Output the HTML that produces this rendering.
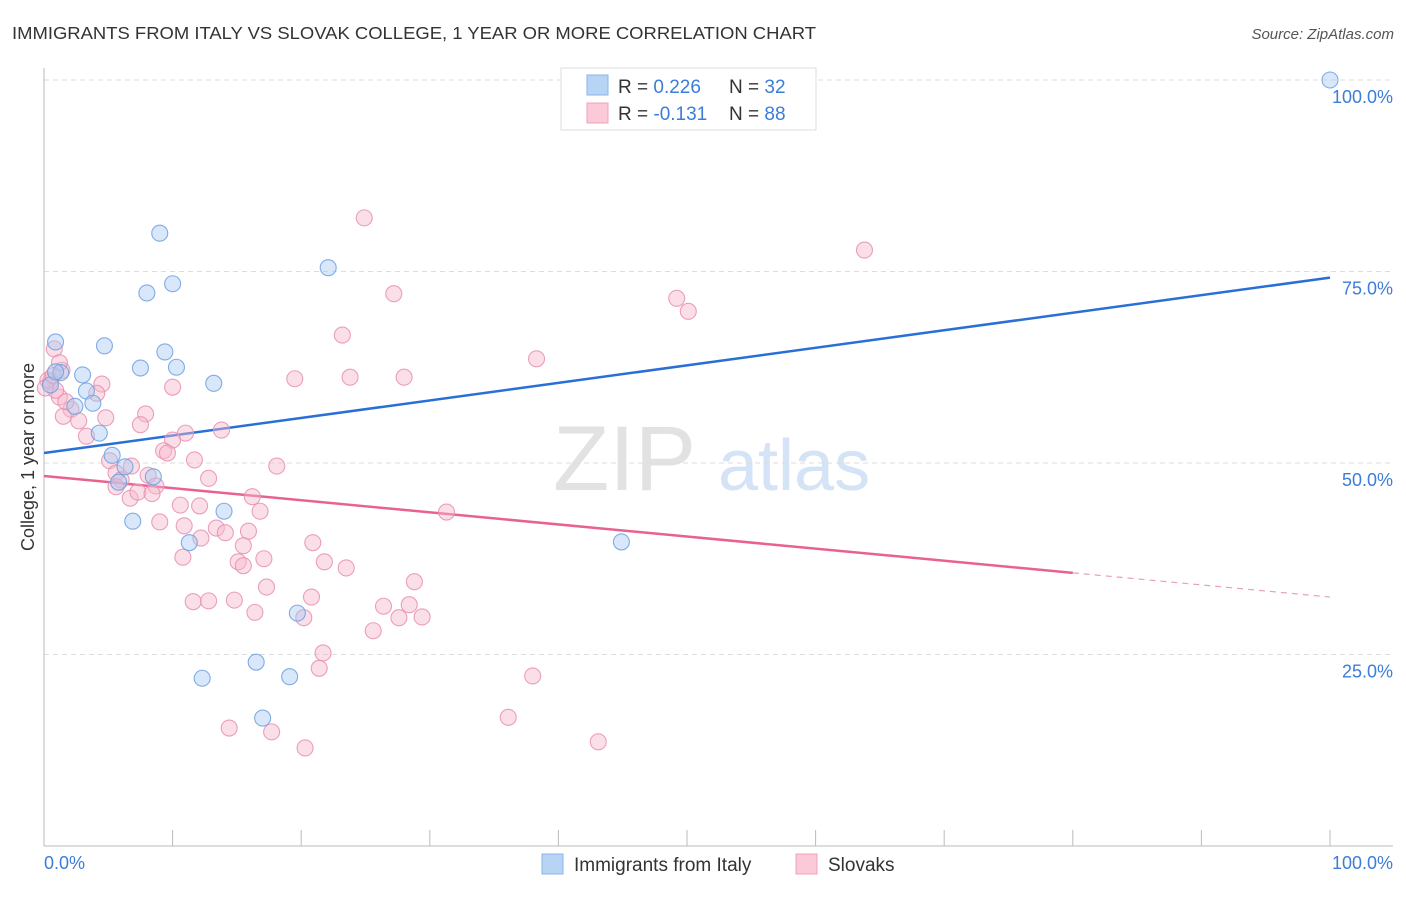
<!DOCTYPE html>
<html><head><meta charset="utf-8"><style>
body{margin:0;background:#fff;font-family:"Liberation Sans",sans-serif;}
svg text{font-family:"Liberation Sans",sans-serif;}
</style></head><body>
<svg id="chart" width="1406" height="892" viewBox="0 0 1406 892">
<text x="12" y="39" font-size="17.5" fill="#333" textLength="804" lengthAdjust="spacingAndGlyphs">IMMIGRANTS FROM ITALY VS SLOVAK COLLEGE, 1 YEAR OR MORE CORRELATION CHART</text>
<text x="1394" y="39" font-size="15" fill="#555" font-style="italic" text-anchor="end">Source: ZipAtlas.com</text>
<g>
<text x="553" y="490" font-size="92" fill="#e2e2e2" font-family="Liberation Serif">ZIP</text>
<text x="718" y="490" font-size="72" fill="#d4e3f5">atlas</text>
</g>
<g id="grid"></g>
<g id="axes"></g>
<g id="lines"></g>
<g id="points"></g>
<text transform="translate(34,457) rotate(-90)" font-size="18" fill="#333" text-anchor="middle">College, 1 year or more</text>
<text x="44" y="869" font-size="18" fill="#3b7dd8">0.0%</text>
<text x="1393" y="869" font-size="18" fill="#3b7dd8" text-anchor="end">100.0%</text>
<g>
<rect x="561" y="68" width="255" height="62" fill="#fff" stroke="#ddd"/>
<rect x="587" y="75" width="21" height="20" fill="#b8d4f5" stroke="#8ab4ea"/>
<rect x="587" y="103" width="21" height="20" fill="#fbc9d8" stroke="#f0a0bd"/>
<text x="618" y="93" font-size="19" fill="#333">R = <tspan fill="#3b7dd8">0.226</tspan><tspan x="729">N = </tspan><tspan fill="#3b7dd8">32</tspan></text>
<text x="618" y="120" font-size="19" fill="#333">R = <tspan fill="#3b7dd8">-0.131</tspan><tspan x="729">N = </tspan><tspan fill="#3b7dd8">88</tspan></text>
</g>
<g>
<rect x="542" y="854" width="21" height="20" fill="#b8d4f5" stroke="#8ab4ea"/>
<text x="574" y="871" font-size="19" fill="#333">Immigrants from Italy</text>
<rect x="796" y="854" width="21" height="20" fill="#fbc9d8" stroke="#f0a0bd"/>
<text x="828" y="871" font-size="19" fill="#333">Slovaks</text>
</g>
</svg>
<script>
const yTicks=[25,50,75,100];
const yTickLabels=["25.0%","50.0%","75.0%","100.0%"];
const xTicks=[0,10,20,30,40,50,60,70,80,90,100];
const italyX=[100,0.9,4.7,1.3,3.0,9.4,7.5,10.3,13.2,3.3,3.8,2.4,4.3,5.3,6.3,8.5,5.8,6.9,11.3,14.0,9.0,8.0,10.0,22.1,44.9,19.7,16.5,12.3,19.1,17.0,0.5,0.9];
const italyY=[100,65.8,65.3,61.8,61.5,64.5,62.4,62.5,60.4,59.4,57.8,57.4,53.9,51.0,49.5,48.2,47.5,42.4,39.6,43.7,80.0,72.2,73.4,75.5,39.7,30.4,24.0,21.9,22.1,16.7,60.2,61.9];
const slovakX=[24.9,63.8,27.2,49.2,50.1,23.2,38.3,0.8,19.5,23.8,28.0,10.0,4.5,1.4,1.2,4.1,2.1,1.5,7.9,4.8,2.7,3.3,7.5,11.0,13.8,10.0,9.3,9.6,11.7,5.1,6.8,18.1,5.6,8.1,12.8,6.0,5.6,8.7,6.7,7.3,8.4,16.2,10.6,12.1,16.8,31.3,9.0,10.9,13.4,12.2,14.1,15.9,15.5,20.9,10.8,15.1,15.5,17.1,21.8,23.5,17.3,28.8,11.6,12.8,14.8,20.8,26.4,28.4,16.4,20.2,27.6,29.4,25.6,21.7,21.4,38.0,36.1,14.4,17.7,20.3,43.1,0.5,0.9,0.3,1.2,0.1,0.7,1.7];
const slovakY=[82.0,77.8,72.1,71.5,69.8,66.7,63.6,64.9,61.0,61.2,61.2,59.9,60.3,62.1,58.6,59.1,57.0,56.1,56.4,55.9,55.5,53.5,55.0,53.9,54.3,53.0,51.6,51.3,50.4,50.3,49.6,49.6,48.7,48.4,48.0,47.8,46.9,47.0,45.4,46.2,46.0,45.6,44.5,44.4,43.7,43.6,42.3,41.8,41.5,40.2,40.9,41.1,39.2,39.6,37.7,37.1,36.6,37.5,37.1,36.3,33.8,34.5,31.9,32.0,32.1,32.5,31.3,31.5,30.5,29.8,29.8,29.9,28.1,25.2,23.2,22.2,16.8,15.4,14.9,12.8,13.6,60.6,59.5,60.8,63.1,59.8,61.4,58.0];
const italyTrend=[51.3,74.2];   // value at x=0, x=100
const slovakTrend=[48.3,32.5];
const slovakSolidEnd=80;

const NS="http://www.w3.org/2000/svg";
const X0=44,X1=1330,Y0=846,Y100=80;
const sx=v=>X0+(X1-X0)*v/100;
const sy=v=>Y0-(Y0-Y100)*v/100;
function mk(tag,attrs,parent){const e=document.createElementNS(NS,tag);for(const k in attrs)e.setAttribute(k,attrs[k]);parent.appendChild(e);return e;}
const grid=document.getElementById('grid'),axes=document.getElementById('axes'),lines=document.getElementById('lines'),pts=document.getElementById('points');
yTicks.forEach((t,i)=>{
  const l=mk('line',{x1:X0,x2:1393,y1:sy(t),y2:sy(t),stroke:'#ddd','stroke-dasharray':'5,4'},grid);
  
  
  const tx=mk('text',{x:1393,y:sy(t)+23,'font-size':18,fill:'#3b7dd8','text-anchor':'end'},axes);
  tx.textContent=yTickLabels[i];
  
  
});
const ya=mk('line',{x1:X0,x2:X0,y1:68,y2:Y0,stroke:'#bbb'},axes);


const xa=mk('line',{x1:X0,x2:1393,y1:Y0,y2:Y0,stroke:'#bbb'},axes);


xTicks.forEach(t=>{
  const l=mk('line',{x1:sx(t),x2:sx(t),y1:Y0,y2:Y0-16,stroke:'#bbb'},axes);
  
  
});
function drawPts(xs,ys,fill,stroke,name){
  xs.forEach((x,i)=>{
    const c=mk('circle',{cx:sx(x),cy:sy(ys[i]),r:8,fill:fill,'fill-opacity':0.45,stroke:stroke,'stroke-width':1.1,'stroke-opacity':0.85},pts);
    
    
  });
}
drawPts(slovakX,slovakY,'#f7b9cd','#e88fb0','point-slovaks');
drawPts(italyX,italyY,'#a9c9f2','#6f9fe0','point-italy');
const tv=(tr,x)=>tr[0]+(tr[1]-tr[0])*x/100;
const bl=mk('line',{x1:sx(0),y1:sy(tv(italyTrend,0)),x2:sx(100),y2:sy(tv(italyTrend,100)),stroke:'#2a6fd6','stroke-width':2.5},lines);


const pl=mk('line',{x1:sx(0),y1:sy(tv(slovakTrend,0)),x2:sx(slovakSolidEnd),y2:sy(tv(slovakTrend,slovakSolidEnd)),stroke:'#e8628f','stroke-width':2.5},lines);


const pd=mk('line',{x1:sx(slovakSolidEnd),y1:sy(tv(slovakTrend,slovakSolidEnd)),x2:sx(100),y2:sy(tv(slovakTrend,100)),stroke:'#e8a0b8','stroke-width':1.2,'stroke-dasharray':'6,5'},lines);


</script>
</body></html>
